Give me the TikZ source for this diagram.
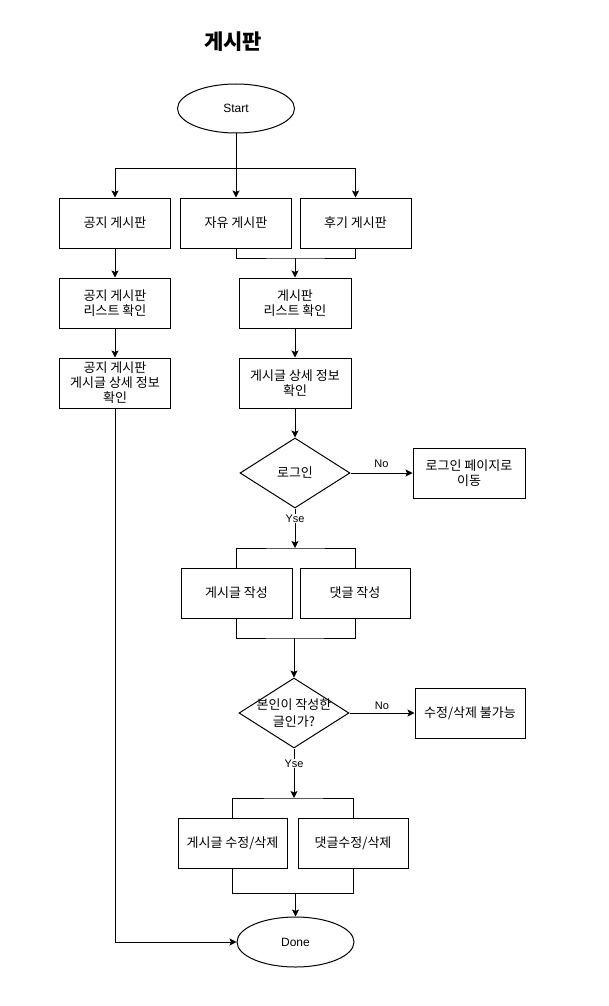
\documentclass[tikz,border=0pt]{standalone}
\usepackage{fontspec}
\setmainfont{Liberation Sans}
\newfontfamily\kr{Noto Sans CJK KR}
\usepackage{tikz}
\usetikzlibrary{arrows.meta}
\usetikzlibrary{shapes.geometric}
\usetikzlibrary{positioning}
\tikzset{
    box/.style={
           rectangle,
           draw=black, line width=1pt,
           minimum width=111pt,
           minimum height=50pt,
           inner sep=2pt,
           align=center,
           font=\kr\fontsize{13}{15}\selectfont,
           },
    term/.style={
           ellipse,
           draw=black, line width=1pt,
           minimum width=117pt,
           minimum height=49pt,
           font=\fontsize{12}{14}\selectfont,
           },
    decision/.style={
           diamond,
           draw=black, line width=1pt,
           minimum width=110pt,
           minimum height=70pt,
           inner sep=0pt,
           font=\kr\fontsize{13}{15}\selectfont,
           },
    tag/.style={
           font=\fontsize{11}{13}\selectfont,
           inner sep=1pt,
           },
}

\begin{document}
\begin{tikzpicture}[x=1pt,y=-1pt,>={Stealth[length=7pt,width=7pt,inset=1.5pt]},line width=1pt]

 \useasboundingbox (0,0) rectangle (608,1006);

 % Title of the chart
 \node[font=\kr\bfseries\fontsize{21}{23}\selectfont] (TITLE) at (233,42) {게시판};

 % Start
 \node[term] (START) at (236,108.5) {Start};
 \coordinate (FORK) at (236,168);

 % the three boards in one row
 \node[box] (NOTICE) at (115,223) {공지 게시판};
 \node[box,
  right of=NOTICE,
  node distance=121pt] (FREE) {자유 게시판};
 \node[box,
  right of=FREE,
  node distance=119.5pt] (REVIEW) {후기 게시판};
 \coordinate (MERGE) at (295,258);

 % notice board column
 \node[box,
  below of=NOTICE,
  node distance=80pt] (NOTICELIST) {공지 게시판\\리스트 확인};
 \node[box,
  below of=NOTICELIST,
  node distance=80pt] (NOTICEVIEW) {공지 게시판\\게시글 상세 정보\\확인};

 % other boards column
 \node[box, minimum width=112pt] (LIST) at (295,303) {게시판\\리스트 확인};
 \node[box,
  minimum width=112pt,
  below of=LIST,
  node distance=80pt] (VIEW) {게시글 상세 정보\\확인};

 % login check
 \node[decision] (LOGIN) at (295,473) {로그인};
 \node[box,
  minimum width=112pt,
  right of=LOGIN,
  node distance=174pt] (LOGINPAGE) {로그인 페이지로\\이동};

 % writing
 \coordinate (WTOP) at (295,548);
 \node[box] (WRITEPOST) at (236.5,593) {게시글 작성};
 \node[box,
  minimum width=110pt,
  right of=WRITEPOST,
  node distance=118.5pt] (WRITECMT) {댓글 작성};
 \coordinate (WBOT) at (294,638);

 % owner check
 \node[decision,
  label={[font=\kr\fontsize{13}{17}\selectfont, align=center]center:{본인이 작성한\\글인가?}}] (OWNER) at (294,713) {};
 \node[box,
  minimum width=110pt,
  right of=OWNER,
  node distance=176pt] (NOEDIT) {수정/삭제 불가능};

 % editing
 \coordinate (ETOP) at (294,798);
 \node[box, minimum width=109pt] (EDITPOST) at (232.5,843) {게시글 수정/삭제};
 \node[box,
  minimum width=110pt,
  right of=EDITPOST,
  node distance=120.5pt] (EDITCMT) {댓글수정/삭제};
 \coordinate (EBOT) at (295.5,893);

 % Done
 \node[term, minimum height=50pt] (DONE) at (295.5,942) {Done};

 % connectors
 \draw[->] (START.south) -- (FREE.north);
 \draw[->] (FORK) -| (NOTICE.north);
 \draw[->] (FORK) -| (REVIEW.north);
 \draw (FREE.south) |- (MERGE) -| (REVIEW.south);
 \draw[->] (MERGE) -- (LIST.north);
 \draw[->] (NOTICE.south) -- (NOTICELIST.north);
 \draw[->] (NOTICELIST.south) -- (NOTICEVIEW.north);
 \draw[->] (LIST.south) -- (VIEW.north);
 \draw[->] (VIEW.south) -- (LOGIN.north);
 \draw[->] (LOGIN.east) -- node[tag, above=4pt]{No} (LOGINPAGE.west);
 \draw[->] (LOGIN.south) -- node[tag, fill=white, pos=0.25]{Yse} (WTOP);
 \draw (WRITEPOST.north) |- (WTOP) -| (WRITECMT.north);
 \draw (WRITEPOST.south) |- (WBOT) -| (WRITECMT.south);
 \draw[->] (WBOT) -- (OWNER.north);
 \draw[->] (OWNER.east) -- node[tag, above=2pt]{No} (NOEDIT.west);
 \draw[->] (OWNER.south) -- node[tag, fill=white, pos=0.3]{Yse} (ETOP);
 \draw (EDITPOST.north) |- (ETOP) -| (EDITCMT.north);
 \draw (EDITPOST.south) |- (EBOT) -| (EDITCMT.south);
 \draw[->] (EBOT) -- (DONE.north);
 \draw[->] (NOTICEVIEW.south) |- (DONE.west);

\end{tikzpicture}
\end{document}
